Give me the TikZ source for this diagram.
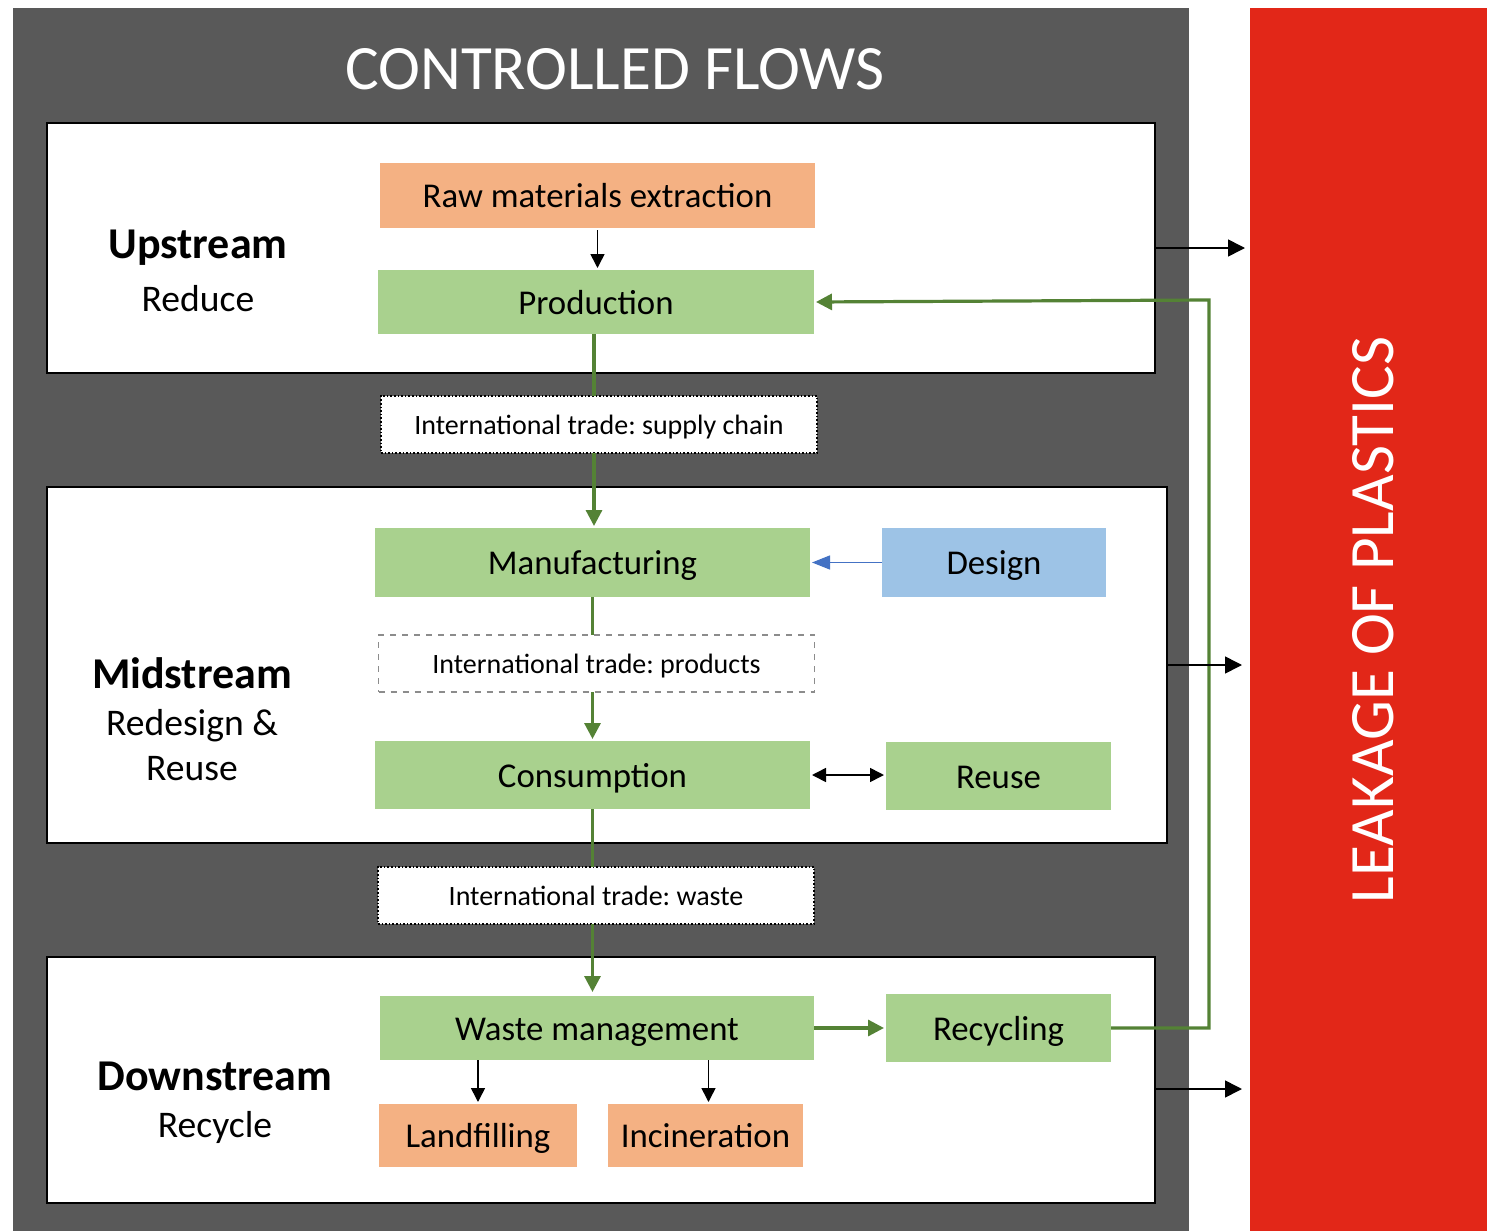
\documentclass[tikz,border=0pt]{standalone}
\usepackage{fontspec}
\setmainfont{Carlito}
\frenchspacing
\usetikzlibrary{arrows.meta,calc}
\definecolor{ctrlgray}{HTML}{595959}
\definecolor{leakred}{HTML}{E22718}
\definecolor{boxorange}{HTML}{F4B183}
\definecolor{boxgreen}{HTML}{A9D18E}
\definecolor{boxblue}{HTML}{9DC3E6}
\definecolor{flowgreen}{HTML}{548235}
\definecolor{designblue}{HTML}{4472C4}
\tikzset{
  every node/.style={inner sep=0pt, outer sep=0pt},
  panel/.style={draw=black, line width=0.7pt, fill=white},
  procbox/.style={font=\fontsize{17.4}{20}\selectfont, text=black, text height=12.2pt, text depth=0pt},
  orangebox/.style={procbox, fill=boxorange},
  greenbox/.style={procbox, fill=boxgreen},
  bluebox/.style={procbox, fill=boxblue},
  tradebox/.style={fill=white, font=\fontsize{14}{16}\selectfont, text height=9.8pt, text depth=0pt, minimum width=218pt, minimum height=28.5pt},
  dotborder/.style={draw=black, line width=0.8pt, densely dotted},
  dashborder/.style={draw=black!45, line width=0.6pt, dashed},
  stagehead/.style={font=\bfseries\fontsize{22}{26}\selectfont, text height=15.4pt, text depth=0pt},
  stagesub/.style={font=\fontsize{18.8}{22}\selectfont, text height=13.2pt, text depth=0pt},
  bigtitle/.style={text=white, font=\fontsize{31.6}{36}\selectfont, text height=20.6pt, text depth=0pt},
  gline/.style={draw=flowgreen, line width=1.6pt},
  garrow/.style={gline, -{Triangle[length=8pt,width=8pt]}},
  barrow/.style={draw=black, line width=0.8pt, -{Triangle[length=7pt,width=7pt]}},
  bigarrow/.style={draw=black, line width=0.8pt, -{Triangle[length=8.5pt,width=8.5pt]}},
}
\begin{document}
\begin{tikzpicture}[x=0.5pt,y=-0.5pt]
\useasboundingbox (0,0) rectangle (1496,1231);
% big frames
\node[fill=ctrlgray, minimum width=588pt, minimum height=611.5pt] (ctrl) at (601,619.5) {};
\node[bigtitle] (ctrltitle) at (615,69) {CONTROLLED FLOWS};
\node[fill=leakred, minimum width=118.5pt, minimum height=611.5pt] (leak) at (1368.5,619.5) {};
\node[bigtitle, rotate=90] (leaktitle) at (1373,620) {LEAKAGE OF PLASTICS};
% panels
\node[panel, minimum width=554pt, minimum height=125pt] (up) at (601,248) {};
\node[panel, minimum width=560pt, minimum height=178pt] (mid) at (607,665) {};
\node[panel, minimum width=554pt, minimum height=123pt] (down) at (601,1080) {};
% stage labels
\node[stagehead] (uph) at (198,243) {Upstream};
\node[stagesub] (ups) at (198,298) {Reduce};
\node[stagehead] (midh) at (192,673) {Midstream};
\node[stagesub] (mids1) at (192,722) {Redesign \&};
\node[stagesub] (mids2) at (192,767) {Reuse};
\node[stagehead] (downh) at (215,1075) {Downstream};
\node[stagesub] (downs) at (215,1124) {Recycle};
% process boxes
\node[orangebox, minimum width=217.5pt, minimum height=32.5pt] (raw) at (597.5,195.5) {Raw materials extraction};
\node[greenbox, minimum width=218pt, minimum height=32pt] (prod) at (596,302) {Production};
\node[tradebox, dotborder] (t1) at (599,424.5) {International trade: supply chain};
\node[greenbox, minimum width=217.5pt, minimum height=34.5pt] (manu) at (592.5,562.5) {Manufacturing};
\node[bluebox, minimum width=112pt, minimum height=34.5pt] (design) at (994,562.5) {Design};
\node[tradebox, dashborder] (t2) at (596.5,663.5) {International trade: products};
\node[greenbox, minimum width=217.5pt, minimum height=34pt] (cons) at (592.5,775) {Consumption};
\node[greenbox, minimum width=112.5pt, minimum height=34pt] (reuse) at (998.5,776) {Reuse};
\node[tradebox, dotborder] (t3) at (596,895.5) {International trade: waste};
\node[greenbox, minimum width=217pt, minimum height=32pt] (waste) at (597,1028) {Waste management};
\node[greenbox, minimum width=112.5pt, minimum height=34pt] (recyc) at (998.5,1028) {Recycling};
\node[orangebox, minimum width=99pt, minimum height=31.5pt] (land) at (478,1135.5) {Landfilling};
\node[orangebox, minimum width=97.5pt, minimum height=31.5pt] (incin) at (705.5,1135.5) {Incineration};
% connectors
\draw[barrow, shorten >=1pt, shorten <=1pt] (raw.south) -- (raw.south |- prod.north);
\draw[gline] (prod.south -| t1.north) ++(-5,0) coordinate (pa) (pa) -- (pa |- t1.north);
\draw[garrow, shorten >=1pt] (pa |- t1.south) -- (pa |- manu.north);
\draw[gline] (manu.south) -- (t2.north -| manu.south);
\draw[garrow, shorten >=1pt] (t2.south -| manu.south) -- (cons.north);
\draw[gline] (cons.south) -- (t3.north -| cons.south);
\draw[garrow, shorten >=2pt] (t3.south -| cons.south) -- (cons.south |- waste.north);
\draw[garrow, shorten >=1pt] (waste.east) -- (recyc.west);
\coordinate (loopx) at (1209,300);
\draw[garrow, shorten >=1pt] (recyc.east) -| (loopx) -- (prod.east);
\draw[draw=designblue, line width=0.6pt, -{Triangle[length=9pt,width=7pt]}, shorten >=1pt] (design.west) -- (manu.east);
\draw[barrow, {Triangle[length=7pt,width=7pt]}-{Triangle[length=7pt,width=7pt]}, shorten >=1pt, shorten <=1pt] (cons.east) -- (cons.east -| reuse.west);
\draw[barrow, shorten >=1pt] (waste.south -| land.north) -- (land.north);
\draw[barrow, shorten >=1pt] (waste.south -| incin.north) ++(3,0) coordinate (ia) (ia) -- (ia |- incin.north);
% leakage arrows
\draw[bigarrow, shorten >=2.5pt] (up.east) -- (up.east -| leak.west);
\draw[bigarrow, shorten >=4pt] (mid.east) -- (mid.east -| leak.west);
\draw[bigarrow, shorten >=4pt] ($(down.east)+(0,9)$) coordinate (da) -- (da -| leak.west);
\end{tikzpicture}
\end{document}
